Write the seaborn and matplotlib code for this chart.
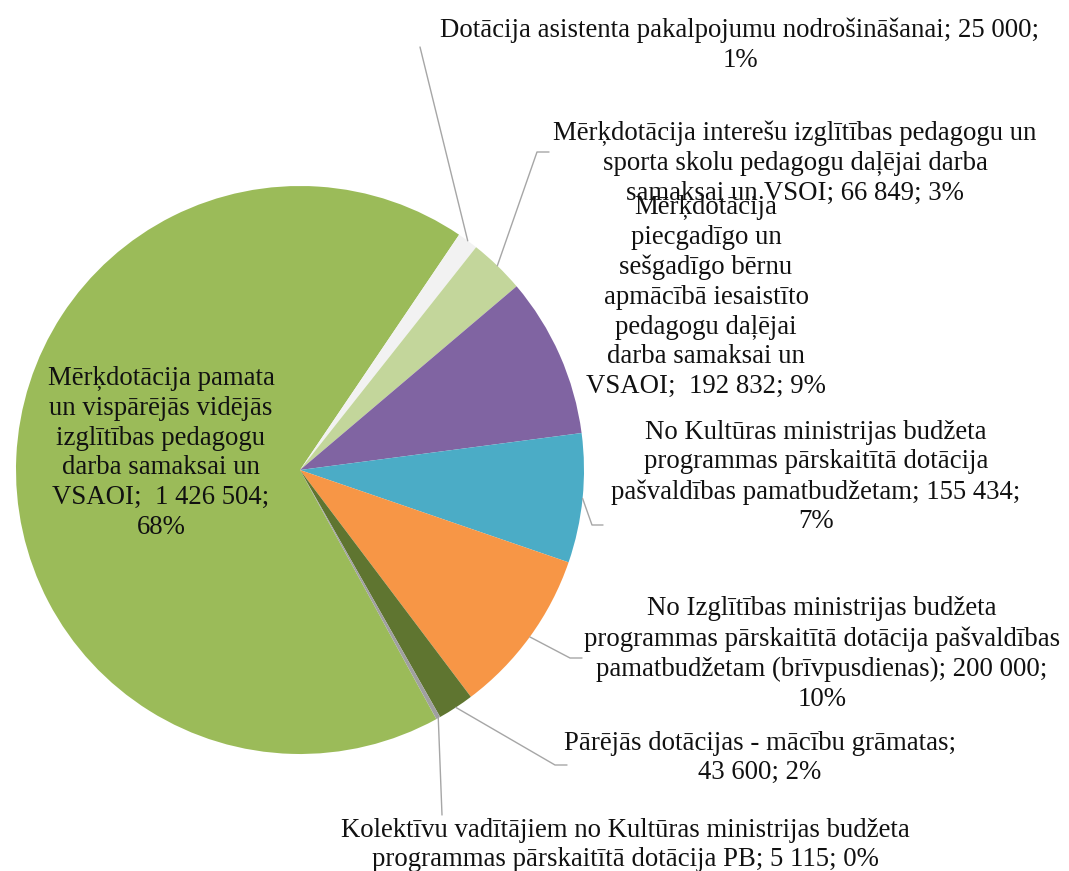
import numpy as np
import matplotlib
matplotlib.use("Agg")
import matplotlib.pyplot as plt
import seaborn as sns

# ----------------------------
# Data (clockwise from the big green slice)
# ----------------------------
labels = [
    "Mērķdotācija pamata\nun vispārējās vidējās\nizglītības pedagogu\ndarba samaksai un\nVSAOI;  1 426 504;\n68%",
    "Dotācija asistenta pakalpojumu nodrošināšanai; 25 000;\n1%",
    "Mērķdotācija interešu izglītības pedagogu un\nsporta skolu pedagogu daļējai darba\nsamaksai un VSOI; 66 849; 3%",
    "Mērķdotācija\npiecgadīgo un\nsešgadīgo bērnu\napmācībā iesaistīto\npedagogu daļējai\ndarba samaksai un\nVSAOI;  192 832; 9%",
    "No Kultūras ministrijas budžeta\nprogrammas pārskaitītā dotācija\npašvaldības pamatbudžetam; 155 434;\n7%",
    "No Izglītības ministrijas budžeta\nprogrammas pārskaitītā dotācija pašvaldības\npamatbudžetam (brīvpusdienas); 200 000;\n10%",
    "Pārējās dotācijas - mācību grāmatas;\n43 600; 2%",
    "Kolektīvu vadītājiem no Kultūras ministrijas budžeta\nprogrammas pārskaitītā dotācija PB; 5 115; 0%",
]
values = [1426504, 25000, 66849, 192832, 155434, 200000, 43600, 5115]
colors = ["#9BBB59", "#F2F2F2", "#C3D69B", "#8064A2", "#4BACC6",
          "#F79646", "#5F7530", "#A0A0A0"]

# label centres in pixel coords (x, y from top) and optional leader elbow
label_pos = [(740, 45), (795, 163), (706, 297), (816, 477), (822, 654),
             (760, 758), (625, 845)]
label_pos = [(161, 453)] + label_pos
elbows = [None, (420, 47), (537, 152), None,
          (592, 525), (570, 658), (555, 765), (442, 815)]
elbow_ends = [None, None, (549, 152), None,
              (603, 525), (582, 658), (567, 765), None]

# ----------------------------
# Figure
# ----------------------------
sns.set_theme(style="white")
plt.rcParams["font.family"] = ["Liberation Serif", "DejaVu Serif"]

W, H = 1069, 871
fig = plt.figure(figsize=(W / 100, H / 100), dpi=100)
ax = fig.add_axes([0, 0, 1, 1])

CX, CY, R = 300, 470, 284
center = (CX, H - CY)

# green slice begins ~151 deg clockwise from 12 o'clock
start = 90 - 151.3

wedges, _ = ax.pie(values, colors=colors, startangle=start, counterclock=False,
                   radius=R, center=center, frame=True,
                   wedgeprops=dict(edgecolor="none", linewidth=0))
ax.set_xlim(0, W)
ax.set_ylim(0, H)
ax.axis("off")

fs = 19.3
for i, (lab, w) in enumerate(zip(labels, wedges)):
    lx, ly = label_pos[i]
    ax.text(lx, H - ly, lab, ha="center", va="center", fontsize=fs,
            color="#111111", linespacing=1.25, multialignment="center")
    if elbows[i] is None:
        continue
    mid = np.deg2rad((w.theta1 + w.theta2) / 2)
    ax0 = CX + R * np.cos(mid)
    ay0 = (H - CY) + R * np.sin(mid)
    ex, ey = elbows[i]
    xs = [ax0, ex]
    ys = [ay0, H - ey]
    if elbow_ends[i] is not None:
        xs.append(elbow_ends[i][0])
        ys.append(H - elbow_ends[i][1])
    ax.plot(xs, ys, color="#A6A6A6", linewidth=1.0)

fig.savefig("out.png", dpi=100)
